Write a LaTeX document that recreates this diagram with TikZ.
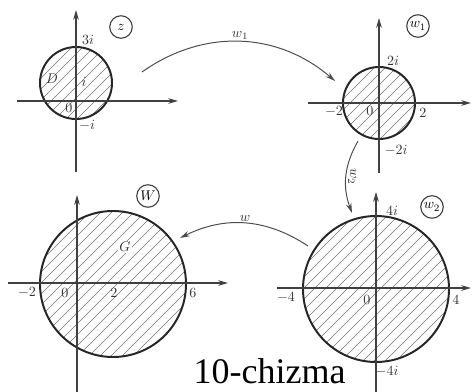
\documentclass[tikz,border=0pt]{standalone}
\usepackage{fontspec}
\newfontfamily\captionfont{Liberation Serif}
\usepackage{tikz}
\usetikzlibrary{arrows.meta,calc}
\tikzset{
    axis/.style={
        -{Stealth[length=7pt,width=4pt]},
        line width=0.9pt,
        black!75,
    },
    rim/.style={
        line width=1.4pt,
        black!85,
    },
    hatch/.style={
        line width=0.45pt,
        black!55,
    },
    mapto/.style={
        -{Stealth[length=7pt,width=4pt]},
        line width=0.7pt,
        black!70,
    },
    plane/.style={
        circle,
        draw=black!75,
        line width=0.8pt,
        inner sep=0pt,
        minimum size=16pt,
        font=\normalsize,
    },
    tag/.style={
        font=\normalsize,
        text=black!80,
        inner sep=1pt,
    },
}
% filled disk with 45 degree hatching
\newcommand\hatchdisk[3]{%
    \begin{scope}
        \clip (#1,#2) circle [radius=#3];
        \foreach \d in {-150,-139,...,150}
            \draw[hatch] (#1+\d-#3,#2+#3) -- (#1+\d+#3,#2-#3);
    \end{scope}
    \draw[rim] (#1,#2) circle [radius=#3];
}

\begin{document}
\begin{tikzpicture}[x=0.025cm, y=-0.025cm]
    \useasboundingbox (0,0) rectangle (472,392);

    % plane z
    \hatchdisk{76}{83}{36}
    \draw[axis] (17,101) -- (178,101);
    \draw[axis] (76,172) -- (76,10);
    \node[plane] (zname) at (121,27) {$z$};
    \node[tag] (zthree) at (88,40) {$3i$};
    \node[tag] (zi) at (84,82) {$i$};
    \node[tag] (zzero) at (69,108) {$0$};
    \node[tag] (zmi) at (87,125) {$-i$};
    \node[tag] (zD) at (52,79) {$D$};

    % plane w1
    \hatchdisk{379}{103}{36}
    \draw[axis] (308,103) -- (471,103);
    \draw[axis] (379,173) -- (379,18);
    \node[plane] (wonename) at (418,26) {$w_1$};
    \node[tag] (wonetwoi) at (393,61) {$2i$};
    \node[tag] (wonemtwo) at (334,112) {$-2$};
    \node[tag] (wonezero) at (370,111) {$0$};
    \node[tag] (wonetwo) at (423,113) {$2$};
    \node[tag] (wonemtwoi) at (396,150) {$-2i$};

    % plane w2
    \hatchdisk{376}{289}{73}
    \draw[axis] (277,288) -- (471,288);
    \draw[axis] (376,392) -- (376,192);
    \node[plane] (wtwoname) at (432,207) {$w_2$};
    \node[tag] (wtwofouri) at (392,211) {$4i$};
    \node[tag] (wtwomfour) at (286,298) {$-4$};
    \node[tag] (wtwozero) at (367,300) {$0$};
    \node[tag] (wtwofour) at (456,300) {$4$};
    \node[tag] (wtwomfouri) at (387,371) {$-4i$};

    % plane w
    \hatchdisk{113}{284}{73}
    \draw[axis] (8,283) -- (228,283);
    \draw[axis] (77,392) -- (77,195);
    \node[plane] (wname) at (148,196) {$W$};
    \node[tag] (wmtwo) at (27,293) {$-2$};
    \node[tag] (wzero) at (65,293) {$0$};
    \node[tag] (wtwo) at (114,293) {$2$};
    \node[tag] (wsix) at (193,293) {$6$};
    \node[tag, fill=white] (wG) at (125,247) {$G$};

    % mappings
    \coordinate (zout) at (142,72);
    \coordinate (wonein) at (335,81);
    \coordinate (woneout) at (358,141);
    \coordinate (wtwoin) at (352,213);
    \coordinate (wtwoout) at (308,246);
    \coordinate (win) at (180,238);
    \draw[mapto] (zout) to[bend left=38] node[above, tag] (mapone) {$w_1$} (wonein);
    \draw[mapto] (woneout) to[bend right=25] node[left, tag, rotate=-90, anchor=south] (maptwo) {$w_2$} (wtwoin);
    \draw[mapto] (wtwoout) to[bend right=30] node[above, tag] (mapthree) {$w$} (win);

    % caption
    \node[font=\captionfont\fontsize{25.6}{30}\selectfont, anchor=base, inner sep=0pt] (caption) at (269.5,383) {10-chizma};
\end{tikzpicture}
\end{document}
